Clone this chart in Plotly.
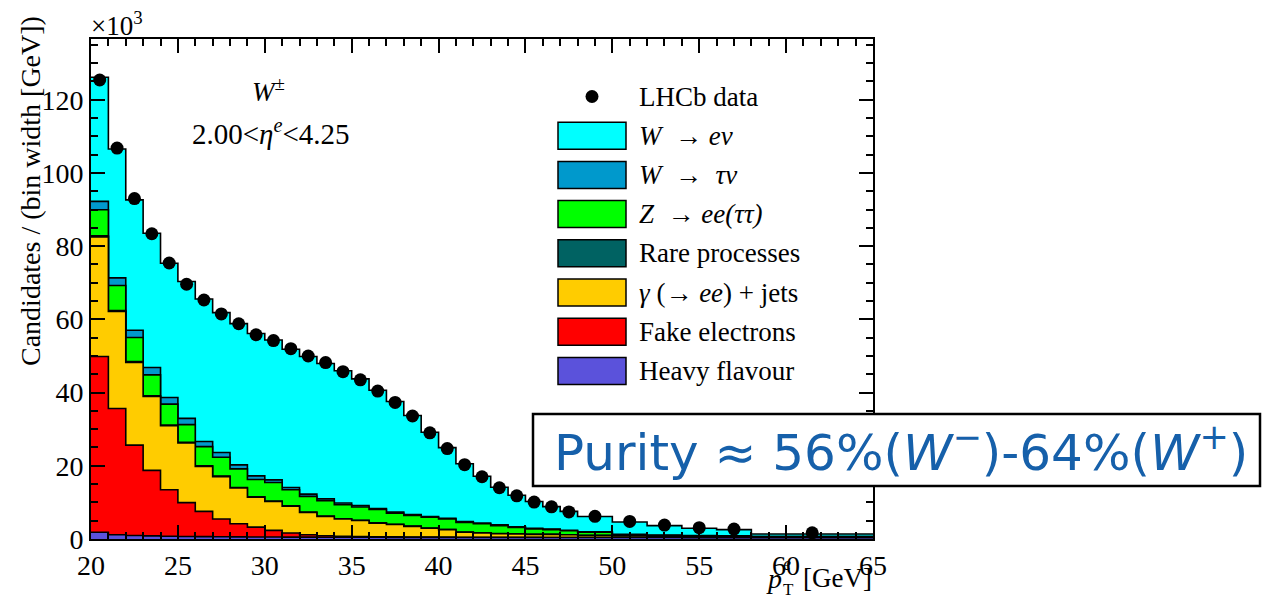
import numpy as np
import plotly.graph_objects as go

# ---------------- data (values in units of 10^3 candidates / GeV) ----------------
bin_edges = [20, 21, 22, 23, 24, 25, 26, 27, 28, 29, 30, 31, 32, 33, 34, 35, 36, 37, 38, 39,
             40, 41, 42, 43, 44, 45, 46, 47, 48, 50, 52, 54, 56, 58, 65]

lhcb_data = [125.4, 106.8, 93.0, 83.4, 75.4, 69.6, 65.3, 61.5, 58.8, 55.8, 54.2, 52.0, 50.0, 48.2,
             45.7, 43.5, 40.4, 37.3, 33.6, 29.0, 24.7, 20.3, 17.0, 14.0, 11.8, 10.1, 8.8, 7.4,
             6.2, 4.8, 3.8, 3.1, 2.7, 1.7]

heavy_flavour = [1.85, 1.15, 0.95, 0.85, 0.75, 0.7, 0.65, 0.6, 0.57, 0.55, 0.53, 0.51, 0.5, 0.49,
                 0.48, 0.47, 0.46, 0.45, 0.45, 0.44, 0.43, 0.43, 0.42, 0.42, 0.41, 0.41, 0.4, 0.4,
                 0.4, 0.39, 0.39, 0.38, 0.38, 0.37]
fake_electrons = [48.0, 34.5, 24.7, 17.9, 12.7, 9.25, 6.9, 4.85, 3.58, 2.7, 1.82, 1.14, 0.65, 0.41,
                  0.27, 0.18, 0.14, 0.12, 0.1, 0.09, 0.08, 0.06, 0.05, 0.04, 0.04, 0.03, 0.03, 0.03,
                  0.02, 0.02, 0.01, 0.02, 0.01, 0.01]
gamma_jets = [32.7, 26.5, 22.6, 20.2, 17.5, 16.3, 12.3, 11.6, 9.8, 8.2, 7.9, 7.3, 6.1, 5.25,
              4.7, 4.4, 3.75, 3.38, 2.9, 2.42, 2.04, 1.36, 1.18, 0.99, 0.9, 0.81, 0.82, 0.72,
              0.53, 0.44, 0.35, 0.3, 0.26, 0.17]
rare_processes = [0.3, 0.25, 0.2, 0.18, 0.16, 0.15, 0.14, 0.13, 0.12, 0.11, 0.1, 0.1, 0.09, 0.09,
                  0.08, 0.08, 0.07, 0.07, 0.06, 0.06, 0.05, 0.05, 0.05, 0.04, 0.04, 0.04, 0.03, 0.03,
                  0.03, 0.02, 0.02, 0.02, 0.02, 0.01]
z_ee_tautau = [7.1, 6.85, 6.6, 5.72, 5.74, 4.85, 5.26, 5.17, 5.08, 4.69, 5.1, 4.4, 4.31, 4.21,
               3.82, 3.62, 3.63, 3.03, 2.94, 2.94, 2.85, 2.65, 2.45, 2.16, 1.76, 1.46, 1.27, 1.07,
               0.87, 0.28, 0.18, 0.18, 0.18, 0.09]
w_taunu = [2.3, 2.1, 2.0, 2.0, 1.8, 1.7, 1.4, 1.3, 1.1, 1.0, 0.7, 0.6, 0.6, 0.5, 0.5, 0.4, 0.3,
           0.3, 0.2, 0.2, 0.2, 0.2, 0.2, 0.2, 0.2, 0.2, 0.15, 0.15, 0.1, 0.1, 0.1, 0.05, 0.05, 0.05]
w_enu = [33.9, 35.2, 35.6, 36.7, 36.7, 37.4, 38.9, 38.2, 38.6, 38.9, 38.2, 37.8, 37.6, 37.0,
         36.1, 34.6, 32.3, 30.2, 27.1, 23.0, 19.3, 15.8, 12.8, 10.3, 8.6, 7.3, 6.15, 5.15,
         4.2, 3.4, 2.6, 2.0, 1.65, 0.65]

# stack order from bottom to top
stack_labels = ["Heavy flavour", "Fake electrons", "<i>γ</i> (→ <i>ee</i>) + jets", "Rare processes",
                "<i>Z</i>  → <i>ee(ττ)</i>", "<i>W</i>  →  <i>τν</i>", "<i>W</i>  → <i>eν</i>"]
stack_values = [heavy_flavour, fake_electrons, gamma_jets, rare_processes, z_ee_tautau, w_taunu, w_enu]
stack_colors = ["#5B52DB", "#FF0000", "#FFCC00", "#006262", "#00FF00", "#0099CC", "#00FFFF"]

SERIF = "Liberation Serif, Times New Roman, serif"

edges = np.array(bin_edges, dtype=float)
centers = 0.5 * (edges[:-1] + edges[1:])
cumulative = np.cumsum(np.array(stack_values), axis=0)

fig = go.Figure()

# draw cumulative steps from the top of the stack downwards, each filled to zero
for i in range(len(stack_values) - 1, -1, -1):
    yv = list(cumulative[i]) + [cumulative[i][-1]]
    fig.add_trace(go.Scatter(
        x=edges, y=yv, mode="lines", line=dict(shape="hv", color="black", width=1.6),
        fill="tozeroy", fillcolor=stack_colors[i], showlegend=False, hoverinfo="skip"))

fig.add_trace(go.Scatter(
    x=centers, y=lhcb_data, mode="markers",
    marker=dict(color="black", size=13), showlegend=False))

# ---------------- layout ----------------
W, H = 1267, 601
L, R, T, B = 91, 394, 39, 62
PW, PH = W - L - R, H - T - B


def px(x):
    return (x - L) / PW


def py(y):
    return (H - B - y) / PH


axis_common = dict(
    showgrid=False, zeroline=False, showline=True, linecolor="black", linewidth=2,
    mirror="allticks", ticks="inside", ticklen=14, tickwidth=1.5, tickcolor="black",
    tickfont=dict(family=SERIF, size=28, color="black"),
)

fig.update_layout(
    width=W, height=H, margin=dict(l=L, r=R, t=T, b=B),
    paper_bgcolor="white", plot_bgcolor="white", showlegend=False,
    xaxis=dict(range=[20, 65], tick0=20, dtick=5,
               minor=dict(dtick=1, ticks="inside", ticklen=7, tickwidth=1.5, tickcolor="black"),
               **axis_common),
    yaxis=dict(range=[0, 136.6], tick0=0, dtick=20,
               minor=dict(dtick=5, ticks="inside", ticklen=7, tickwidth=1.5, tickcolor="black"),
               **axis_common),
)

shapes = []
annotations = []

# legend (drawn as boxes + text)
legend_labels = ["LHCb data"] + stack_labels[::-1]
legend_colors = [None] + stack_colors[::-1]
for k, (lab, col) in enumerate(zip(legend_labels, legend_colors)):
    yc = 96.5 + 39.2 * k
    if col is None:
        shapes.append(dict(type="circle", xref="paper", yref="paper",
                           x0=px(585.5), x1=px(598.5), y0=py(yc + 6.5), y1=py(yc - 6.5),
                           fillcolor="black", line=dict(color="black", width=0)))
    else:
        shapes.append(dict(type="rect", xref="paper", yref="paper",
                           x0=px(558), x1=px(626), y0=py(yc + 13.5), y1=py(yc - 13.5),
                           fillcolor=col, line=dict(color="black", width=1.5)))
    annotations.append(dict(xref="paper", yref="paper", x=px(637), y=py(yc), text=lab,
                            xanchor="left", yanchor="middle", showarrow=False,
                            font=dict(family=SERIF, size=27, color="black")))

# in-plot labels
annotations.append(dict(xref="paper", yref="paper", x=px(268), y=py(90),
                        text="<i>W</i><sup>±</sup>", showarrow=False,
                        xanchor="center", yanchor="middle",
                        font=dict(family=SERIF, size=27, color="black")))
annotations.append(dict(xref="paper", yref="paper", x=px(271), y=py(132),
                        text="2.00&lt;<i>η</i><sup><i>e</i></sup>&lt;4.25", showarrow=False,
                        xanchor="center", yanchor="middle",
                        font=dict(family=SERIF, size=29, color="black")))

# axis decorations
annotations.append(dict(xref="paper", yref="paper", x=px(89), y=py(24),
                        text="×10<sup>3</sup>", showarrow=False,
                        xanchor="left", yanchor="middle",
                        font=dict(family=SERIF, size=27, color="black")))
annotations.append(dict(xref="paper", yref="paper", x=px(30), y=py(191),
                        text="Candidates / (bin width [GeV])", showarrow=False, textangle=-90,
                        xanchor="center", yanchor="middle",
                        font=dict(family=SERIF, size=28, color="black")))
annotations.append(dict(xref="paper", yref="paper", x=px(783), y=py(578),
                        text="<i>p</i>", showarrow=False, xanchor="right", yanchor="middle",
                        font=dict(family=SERIF, size=28, color="black"), borderpad=0))
annotations.append(dict(xref="paper", yref="paper", x=px(782), y=py(564),
                        text="<i>e</i>", showarrow=False, xanchor="left", yanchor="middle",
                        font=dict(family=SERIF, size=18, color="black"), borderpad=0))
annotations.append(dict(xref="paper", yref="paper", x=px(782), y=py(589),
                        text="T", showarrow=False, xanchor="left", yanchor="middle",
                        font=dict(family=SERIF, size=17, color="black"), borderpad=0))
annotations.append(dict(xref="paper", yref="paper", x=px(873), y=py(578),
                        text="[GeV]", showarrow=False, xanchor="right", yanchor="middle",
                        font=dict(family=SERIF, size=27, color="black"), borderpad=0))

# purity box
shapes.append(dict(type="rect", xref="paper", yref="paper", layer="above",
                   x0=px(533), x1=px(1260), y0=py(486), y1=py(414),
                   fillcolor="white", line=dict(color="black", width=2.5)))
annotations.append(dict(xref="paper", yref="paper", x=px(901), y=py(449),
                        text="Purity ≈ 56%(<i>W</i><sup>−</sup>)-64%(<i>W</i><sup>+</sup>)",
                        showarrow=False, xanchor="center", yanchor="middle",
                        font=dict(family="DejaVu Sans, Verdana, sans-serif", size=50, color="#1660AA")))

fig.update_layout(shapes=shapes, annotations=annotations)
fig.write_html("out.html")
